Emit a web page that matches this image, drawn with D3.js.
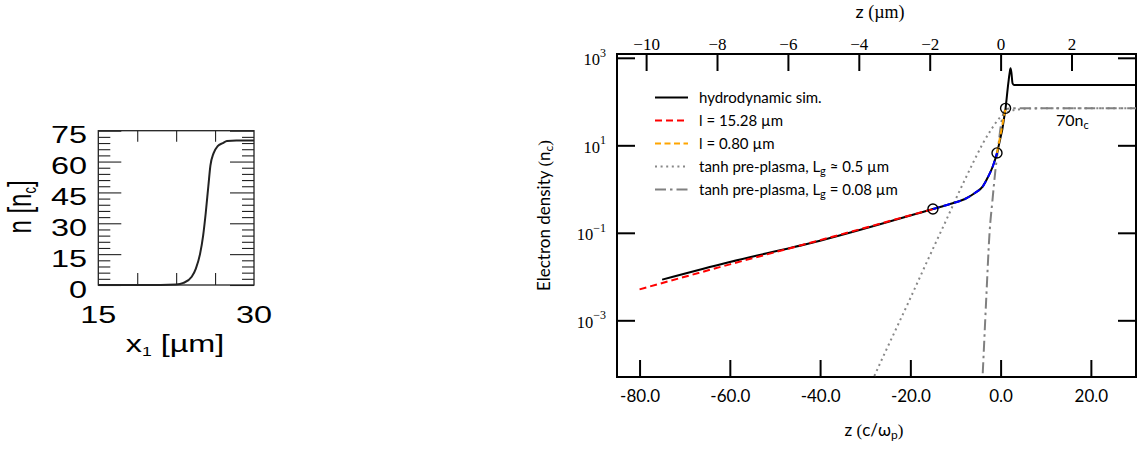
<!DOCTYPE html>
<html lang="en">
<head>
<meta charset="UTF-8" />
<title>Electron density profiles</title>
<script src="https://d3js.org/d3.v7.min.js"></script>
<style>
  body { margin: 0; background: #fff; }
  .sans { font-family: Lato, "DejaVu Sans", sans-serif; }
  .serif { font-family: "Liberation Serif", "DejaVu Serif", serif; }
  .helv { font-family: "Liberation Sans", Arial, sans-serif; }
  .axis path.domain { display: none; }
</style>
</head>
<body>
<div id="chart"></div>
<script>
// left panel: initial density profile n(x1)
const profX = [15, 21, 22.5, 23.2, 24.0, 24.4, 24.8, 25.1, 25.35, 25.6, 25.8, 26.1, 26.5, 27.0, 27.4, 28.3, 30];
const profN = [0, 0, 0.2, 1, 4, 8, 15, 24, 35, 48, 58, 64, 67.5, 69, 70, 70.2, 70.2];
const profYTicks = [0, 15, 30, 45, 60, 75];
const profXTicks = [15, 30];
const profXMinor = [18.75, 22.5, 26.25];

// right panel: electron density along z (c/omega_p)
const hydroZ = [-75, -60, -40, -15, -11.2, -7.9, -5.7, -3.9, -2.8, -1.7, -0.8, 1.1, 1.7, 2.0, 2.2, 2.4, 2.65, 2.95, 30];
const hydroN = [0.0085, 0.0215, 0.066, 0.35, 0.455, 0.593, 0.81, 1.17, 1.88, 3.37, 6.7, 70, 260, 450, 575, 450, 260, 240, 240];

const fitFarZ = [-80, -60, -40, -15];
const fitFarN = [0.0051, 0.019, 0.068, 0.35];

const fitMidZ = [-15, -11.2, -7.9, -5.7, -3.9, -2.8, -1.7, -0.8];
const fitMidN = [0.35, 0.455, 0.593, 0.81, 1.17, 1.88, 3.37, 6.7];

const fitNearZ = [-0.8, 1.1];
const fitNearN = [6.7, 70];

const tanhWideZ = [-29, -26, -23, -20, -17, -14, -12, -10, -8, -6, -4, -2, 0, 2, 4, 6, 10, 30];
const tanhWideN = [3.1e-5, 1.5e-4, 6.9e-4, 3.2e-3, 0.0153, 0.072, 0.2, 0.57, 1.57, 4.2, 10.7, 23.6, 45, 60, 66, 69, 70, 70];

const tanhSteepZ = [-4.2, -4.0, -3.2, -2.45, -1.8, -1.15, -0.6, 0.07, 0.73, 1.4, 2.5, 30];
const tanhSteepN = [2e-5, 5.1e-5, 2.9e-3, 0.1, 0.56, 2.7, 7.8, 29, 57, 68, 70, 70];

const joinZ = [-15, -0.8, 1.1];
const joinN = [0.35, 6.7, 70];

const zTicks = [-80, -60, -40, -20, 0, 20];
const umTicks = [-10, -8, -6, -4, -2, 0, 2];
const nTicks = [1e-3, 1e-1, 1e1, 1e3];
const legendLabels = [
  "hydrodynamic sim.",
  "l = 15.28 µm",
  "l = 0.80 µm",
  "tanh pre-plasma, L_g ≈ 0.5 µm",
  "tanh pre-plasma, L_g = 0.08 µm"
];
const umPerSkin = 7.855; // c/omega_p per micron

const w = 1137, h = 450;
const svg = d3.select("#chart").append("svg").attr("width", w).attr("height", h);

// ---------- left panel ----------
const lx = d3.scaleLinear().domain([15, 30]).range([98.3, 254]);
const ly = d3.scaleLinear().domain([0, 75]).range([285, 130.7]);
const left = svg.append("g");
const stretch = 1.35;

const minorY = d3.range(0, 76, 3).filter(v => v % 15 !== 0);
const tickAxis = (axis, tr) => left.append("g").attr("class", "axis")
  .attr("transform", tr).call(axis)
  .call(g => g.selectAll("line").attr("stroke", "#222").attr("stroke-width", 1.1));

tickAxis(d3.axisLeft(ly).tickValues(profYTicks).tickSize(-23).tickFormat(""), `translate(${lx(15)},0)`);
tickAxis(d3.axisLeft(ly).tickValues(minorY).tickSize(-12).tickFormat(""), `translate(${lx(15)},0)`);
tickAxis(d3.axisRight(ly).tickValues(profYTicks).tickSize(-24).tickFormat(""), `translate(${lx(30)},0)`);
tickAxis(d3.axisRight(ly).tickValues(minorY).tickSize(-12).tickFormat(""), `translate(${lx(30)},0)`);
tickAxis(d3.axisTop(lx).tickValues(profXMinor).tickSize(-11).tickFormat(""), `translate(0,${ly(75)})`);
tickAxis(d3.axisBottom(lx).tickValues(profXMinor).tickSize(-12).tickFormat(""), `translate(0,${ly(0)})`);

left.append("rect")
  .attr("x", lx(15)).attr("y", ly(75))
  .attr("width", lx(30) - lx(15)).attr("height", ly(0) - ly(75))
  .attr("fill", "none").attr("stroke", "#222").attr("stroke-width", 1.3);

left.append("path")
  .datum(d3.zip(profX, profN))
  .attr("fill", "none").attr("stroke", "#222").attr("stroke-width", 2)
  .attr("d", d3.line().x(d => lx(d[0])).y(d => ly(d[1])).curve(d3.curveMonotoneX));

left.selectAll(".ylab").data(profYTicks).join("text")
  .attr("class", "helv")
  .attr("font-size", 24)
  .attr("text-anchor", "end")
  .attr("transform", d => `translate(87,${ly(d) + 12.5}) scale(${stretch},1)`)
  .text(d => d);

left.selectAll(".xlab").data(profXTicks).join("text")
  .attr("class", "helv")
  .attr("font-size", 24)
  .attr("text-anchor", "middle")
  .attr("transform", d => `translate(${lx(d)},323) scale(${stretch},1)`)
  .text(d => d);

const xt = left.append("text").attr("class", "helv").attr("font-size", 24)
  .attr("text-anchor", "middle")
  .attr("transform", `translate(175,352) scale(${stretch},1)`);
xt.append("tspan").text("x");
xt.append("tspan").attr("font-size", 13).attr("dy", 4).text("1");
xt.append("tspan").attr("dy", -4).text(" [µm]");

const nt = left.append("text").attr("class", "helv").attr("font-size", 24)
  .attr("text-anchor", "middle")
  .attr("transform", `translate(31,207) rotate(-90) scale(1,${stretch})`);
nt.append("tspan").text("n [n");
nt.append("tspan").attr("font-size", 13).attr("dy", 4).text("c");
nt.append("tspan").attr("dy", -4).text("]");

// ---------- right panel ----------
const x0 = 617, x1 = 1136, y0 = 54, y1 = 377;
const x = d3.scaleLinear().domain([-85, 30]).range([x0, x1]);
const xTop = d3.scaleLinear().domain([-85 / umPerSkin, 30 / umPerSkin]).range([x0, x1]);
const y = d3.scaleLog().domain([5.06e-5, 1222]).range([y1, y0]);

const right = svg.append("g");
right.append("clipPath").attr("id", "plot-area")
  .append("rect").attr("x", x0).attr("y", y0).attr("width", x1 - x0).attr("height", y1 - y0);

const styleTicks = g => g.selectAll("line").attr("stroke", "#000").attr("stroke-width", 2);

right.append("g").attr("class", "axis serif")
  .attr("transform", `translate(0,${y0})`)
  .call(d3.axisTop(xTop).tickValues(umTicks).tickSize(-17).tickPadding(4)
    .tickFormat(d => d < 0 ? "\u2212" + (-d) : d))
  .call(styleTicks)
  .call(g => g.selectAll("text").attr("font-size", 17).attr("font-family", null).attr("fill", "#000"));

right.append("g").attr("class", "axis sans")
  .attr("transform", `translate(0,${y1})`)
  .call(d3.axisBottom(x).tickValues(zTicks).tickSize(-17).tickPadding(13).tickFormat(d => d.toFixed(1)))
  .call(styleTicks)
  .call(g => g.selectAll("text").attr("font-size", 17).attr("font-family", null).attr("fill", "#000"));

right.append("g").attr("class", "axis")
  .attr("transform", `translate(${x0},0)`)
  .call(d3.axisLeft(y).tickValues(nTicks).tickSize(-18).tickFormat(""))
  .call(styleTicks);

right.append("g").attr("class", "axis")
  .attr("transform", `translate(${x1},0)`)
  .call(d3.axisRight(y).tickValues(nTicks).tickSize(-18).tickFormat(""))
  .call(styleTicks);

// power-of-ten labels
const powLab = right.selectAll(".pow").data(nTicks).join("text")
  .attr("class", "serif").attr("text-anchor", "end")
  .attr("x", 606).attr("y", d => y(d) + 7.5).attr("font-size", 16.5);
powLab.append("tspan").text("10");
powLab.append("tspan").attr("font-size", 12).attr("dy", -8.5)
  .text(d => { const e = Math.round(Math.log10(d)); return e < 0 ? "\u2212" + (-e) : e; });

right.append("rect")
  .attr("x", x0).attr("y", y0).attr("width", x1 - x0).attr("height", y1 - y0)
  .attr("fill", "none").attr("stroke", "#000").attr("stroke-width", 2);

const line = d3.line().x(d => x(d[0])).y(d => y(d[1])).curve(d3.curveMonotoneX);
const plot = right.append("g").attr("clip-path", "url(#plot-area)");

const series = [
  { z: tanhWideZ, n: tanhWideN, color: "#888", dash: "2,3.6", width: 2 },
  { z: tanhSteepZ, n: tanhSteepN, color: "#808080", dash: "11,4,2.5,4", width: 2 },
  { z: hydroZ, n: hydroN, color: "#000", dash: null, width: 2 },
  { z: fitFarZ, n: fitFarN, color: "#ff0000", dash: "7,4", width: 2 },
  { z: fitMidZ, n: fitMidN, color: "#0000ff", dash: "7,4", width: 2 },
  { z: fitNearZ, n: fitNearN, color: "#ffa500", dash: "6,3.5", width: 2 }
];

plot.selectAll(".series").data(series).join("path")
  .attr("fill", "none")
  .attr("stroke", d => d.color)
  .attr("stroke-width", d => d.width)
  .attr("stroke-dasharray", d => d.dash)
  .attr("d", d => line(d3.zip(d.z, d.n)));

plot.selectAll(".join").data(d3.zip(joinZ, joinN)).join("circle")
  .attr("cx", d => x(d[0])).attr("cy", d => y(d[1])).attr("r", 5)
  .attr("fill", "none").attr("stroke", "#000").attr("stroke-width", 1.4);

const plateau = right.append("text").attr("class", "sans").attr("font-size", 16)
  .attr("x", 1056).attr("y", 126);
plateau.append("tspan").text("70n");
plateau.append("tspan").attr("font-size", 11).attr("dy", 3).text("c");

// legend
const legendStyle = [series[2], series[3], series[5], series[0], series[1]];
const leg = right.append("g").attr("transform", "translate(655,97.5)");
legendLabels.forEach((lab, i) => {
  const row = leg.append("g").attr("transform", `translate(0,${i * 23})`);
  const s = legendStyle[i];
  row.append("line").attr("x1", 0).attr("x2", 33)
    .attr("stroke", s.color).attr("stroke-width", 2).attr("stroke-dasharray", s.dash);
  const t = row.append("text").attr("class", "sans").attr("font-size", 15)
    .attr("x", 44).attr("y", 5);
  const parts = lab.split("_g");
  t.append("tspan").text(parts[0]);
  if (parts.length > 1) {
    t.append("tspan").attr("font-size", 11).attr("dy", 3).text("g");
    t.append("tspan").attr("dy", -3).text(parts[1]);
  }
});

// axis titles
const topTitle = right.append("text").attr("class", "sans").attr("font-size", 18)
  .attr("text-anchor", "middle").attr("x", 880).attr("y", 18);
topTitle.append("tspan").text("z ");
topTitle.append("tspan").attr("class", "serif").text("(µm)");

const botTitle = right.append("text").attr("class", "sans").attr("font-size", 17)
  .attr("text-anchor", "middle").attr("x", 874).attr("y", 436);
botTitle.append("tspan").text("z ");
botTitle.append("tspan").attr("class", "serif").text("(");
botTitle.append("tspan").text("c/ω");
botTitle.append("tspan").attr("font-size", 12).attr("dy", 3).text("p");
botTitle.append("tspan").attr("class", "serif").attr("dy", -3).text(")");

const yTitle = right.append("text").attr("class", "sans").attr("font-size", 17)
  .attr("text-anchor", "middle")
  .attr("transform", `translate(550,${(y0 + y1) / 2}) rotate(-90)`);
yTitle.append("tspan").text("Electron density ");
yTitle.append("tspan").attr("class", "serif").text("(");
yTitle.append("tspan").text("n");
yTitle.append("tspan").attr("font-size", 12).attr("dy", 3).text("c");
yTitle.append("tspan").attr("class", "serif").attr("dy", -3).text(")");
</script>
</body>
</html>
